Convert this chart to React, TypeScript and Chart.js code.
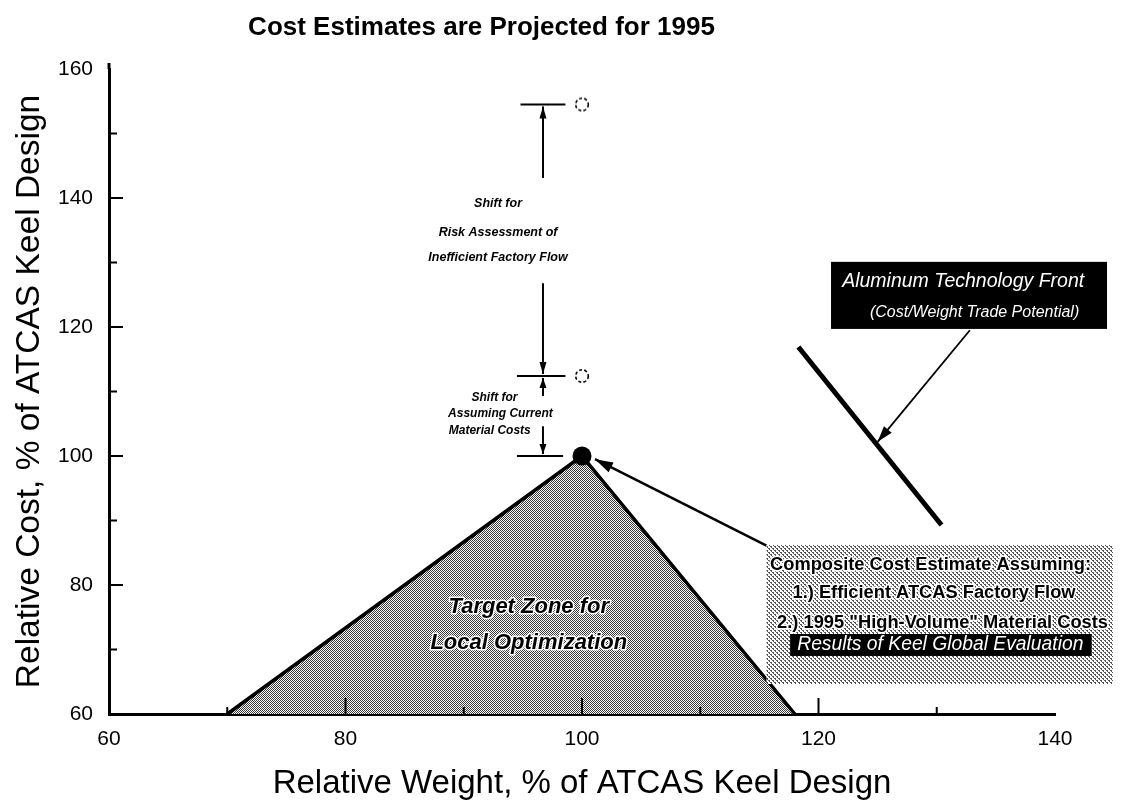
import React, { useEffect, useRef } from "react";
import { Chart, registerables } from "chart.js";
Chart.register(...registerables);

// ---------- text ----------
const chartTitle = "Cost Estimates are Projected for 1995";
const xAxisTitle = "Relative Weight, % of ATCAS Keel Design";
const yAxisTitle = "Relative Cost, % of ATCAS Keel Design";
const riskLabel = ["Shift for", "Risk Assessment of", "Inefficient Factory Flow"];
const materialLabel = ["Shift for", "Assuming Current", "Material Costs"];
const zoneLabel = ["Target Zone for", "Local Optimization"];
const frontLabel = ["Aluminum Technology Front", "(Cost/Weight Trade Potential)"];
const compositeLabel = [
  "Composite Cost Estimate Assuming:",
  "1.) Efficient ATCAS Factory Flow",
  "2.) 1995 \"High-Volume\" Material Costs",
];
const resultsLabel = "Results of Keel Global Evaluation";

// ---------- axes ----------
const xMin = 60, xMax = 140, xStep = 20;
const yMin = 60, yMax = 160, yStep = 20;
const xMajorMarks = [80, 100, 120];
const xMinorMarks = [70, 90, 110, 130];
const yMajorMarks = [80, 100, 120, 140];
const yMinorMarks = [70, 90, 110, 130, 150];

// ---------- data ----------
const zoneX = [70, 100, 118];
const zoneY = [60, 100, 60];
const compositeX = [100];
const compositeY = [100];
const shiftedX = [100, 100];
const shiftedY = [112.4, 154.5];
const riskBarX = [94.8, 98.6];
const riskBarY = [154.5, 154.5];
const materialBarX = [94.5, 98.6];
const materialBarY = [112.4, 112.4];
const baseBarX = [94.5, 98.4];
const baseBarY = [100, 100];
const riskUpX = [96.7, 96.7];
const riskUpY = [143.1, 154.2];
const riskDownX = [96.7, 96.7];
const riskDownY = [126.8, 112.7];
const materialUpX = [96.7, 96.7];
const materialUpY = [109.3, 112.1];
const materialDownX = [96.7, 96.7];
const materialDownY = [104.6, 100.3];
const frontX = [118.3, 130.4];
const frontY = [116.9, 89.3];
const frontPointerX = [132.8, 125.0];
const frontPointerY = [119.5, 102.2];
const compositePointerX = [115.6, 101.1];
const compositePointerY = [86.1, 99.5];

const FONT = "'Liberation Sans', Arial, Helvetica, sans-serif";

const pts = (xs: number[], ys: number[]) => xs.map((x, i) => ({ x, y: ys[i] }));

function makeChecker(dark: string) {
  const c = document.createElement("canvas");
  c.width = 2;
  c.height = 2;
  const g = c.getContext("2d")!;
  g.fillStyle = "#fff";
  g.fillRect(0, 0, 2, 2);
  g.fillStyle = dark;
  g.fillRect(0, 0, 1, 1);
  g.fillRect(1, 1, 1, 1);
  return g.createPattern(c, "repeat")!;
}

function makeDots(dark: string) {
  const c = document.createElement("canvas");
  c.width = 4;
  c.height = 4;
  const g = c.getContext("2d")!;
  g.fillStyle = "#fff";
  g.fillRect(0, 0, 4, 4);
  g.fillStyle = dark;
  g.fillRect(0, 0, 2, 1);
  g.fillRect(2, 2, 2, 1);
  g.fillRect(1, 1, 1, 1);
  g.fillRect(3, 3, 1, 1);
  return g.createPattern(c, "repeat")!;
}

function makeDashedCircle() {
  const c = document.createElement("canvas");
  c.width = 18;
  c.height = 18;
  const g = c.getContext("2d")!;
  g.strokeStyle = "#000";
  g.lineWidth = 1.6;
  g.setLineDash([3, 2.2]);
  g.beginPath();
  g.arc(9, 9, 6.3, 0, Math.PI * 2);
  g.stroke();
  return c;
}

function arrowHead(ctx: CanvasRenderingContext2D, x0: number, y0: number, x1: number, y1: number, len: number, w: number) {
  const a = Math.atan2(y1 - y0, x1 - x0);
  const c = Math.cos(a), s = Math.sin(a);
  ctx.beginPath();
  ctx.moveTo(x1, y1);
  ctx.lineTo(x1 - len * c + w * s, y1 - len * s - w * c);
  ctx.lineTo(x1 - len * c - w * s, y1 - len * s + w * c);
  ctx.closePath();
  ctx.fill();
}

export default function App() {
  const ref = useRef<HTMLCanvasElement | null>(null);

  useEffect(() => {
    const canvas = ref.current!;
    const zonePattern = makeChecker("#3a3a3a");
    const boxPattern = makeDots("#555");
    const dashed = makeDashedCircle();

    const seg = (xs: number[], ys: number[], width: number, head?: { len: number; w: number }) => ({
      data: pts(xs, ys),
      showLine: true,
      borderColor: "#000",
      borderWidth: width,
      pointRadius: 0,
      fill: false,
      clip: false,
      order: 1,
      arrowHead: head,
    });

    const annotations = {
      id: "annotations",
      afterDatasetsDraw(chart: any) {
        const { ctx, chartArea } = chart;
        const sx = chart.scales.x, sy = chart.scales.y;
        const px = (v: number) => sx.getPixelForValue(v);
        const py = (v: number) => sy.getPixelForValue(v);
        ctx.save();

        // arrowheads on segment datasets
        ctx.fillStyle = "#000";
        chart.data.datasets.forEach((ds: any, i: number) => {
          if (!ds.arrowHead) return;
          const d = chart.getDatasetMeta(i).data;
          const a = d[d.length - 2], b = d[d.length - 1];
          arrowHead(ctx, a.x, a.y, b.x, b.y, ds.arrowHead.len, ds.arrowHead.w);
        });

        // axis tick marks (pointing inward)
        ctx.strokeStyle = "#000";
        ctx.lineWidth = 2;
        ctx.beginPath();
        yMajorMarks.forEach((v) => { ctx.moveTo(chartArea.left, py(v)); ctx.lineTo(chartArea.left + 14, py(v)); });
        yMinorMarks.forEach((v) => { ctx.moveTo(chartArea.left, py(v)); ctx.lineTo(chartArea.left + 8, py(v)); });
        xMajorMarks.forEach((v) => { ctx.moveTo(px(v), chartArea.bottom); ctx.lineTo(px(v), chartArea.bottom - 16); });
        xMinorMarks.forEach((v) => { ctx.moveTo(px(v), chartArea.bottom); ctx.lineTo(px(v), chartArea.bottom - 7); });
        ctx.stroke();
        // y axis extends slightly above the top value
        ctx.lineWidth = 3;
        ctx.beginPath();
        ctx.moveTo(chartArea.left, chartArea.top);
        ctx.lineTo(chartArea.left, chartArea.top - 6);
        ctx.stroke();

        // shift labels
        ctx.textAlign = "center";
        ctx.textBaseline = "middle";
        ctx.fillStyle = "#000";
        ctx.font = `italic bold 12.5px ${FONT}`;
        const riskY = [139.2, 134.7, 130.7];
        riskLabel.forEach((t, i) => ctx.fillText(t, px(92.9), py(riskY[i])));
        ctx.font = `italic bold 12px ${FONT}`;
        const matY = [109.1, 106.5, 103.9];
        const matX = [92.6, 93.1, 92.2];
        materialLabel.forEach((t, i) => ctx.fillText(t, px(matX[i]), py(matY[i])));

        // target zone label
        ctx.font = `italic bold 22px ${FONT}`;
        ctx.lineJoin = "round";
        ctx.strokeStyle = "#fff";
        ctx.lineWidth = 3;
        const zoneTY = [76.6, 71.0];
        zoneLabel.forEach((t, i) => {
          ctx.strokeText(t, px(95.5), py(zoneTY[i]));
          ctx.fillText(t, px(95.5), py(zoneTY[i]));
        });

        // aluminum technology front box
        ctx.fillStyle = "#000";
        ctx.fillRect(px(121.06), py(130.1), px(144.4) - px(121.06), py(119.7) - py(130.1));
        ctx.fillStyle = "#fff";
        ctx.textAlign = "left";
        ctx.font = `italic 19.5px ${FONT}`;
        ctx.fillText(frontLabel[0], px(122.0), py(127.0));
        ctx.font = `italic 16px ${FONT}`;
        ctx.fillText(frontLabel[1], px(124.35), py(122.2));

        // composite estimate box
        ctx.fillStyle = boxPattern;
        ctx.fillRect(px(115.6), py(86.2), px(144.9) - px(115.6), py(64.65) - py(86.2));
        ctx.font = `bold 18.3px ${FONT}`;
        ctx.strokeStyle = "#fff";
        ctx.lineWidth = 3;
        const compX = [115.9, 117.8, 116.5];
        const compY = [83.1, 78.8, 74.1];
        compositeLabel.forEach((t, i) => {
          ctx.strokeText(t, px(compX[i]), py(compY[i]));
          ctx.fillStyle = "#000";
          ctx.fillText(t, px(compX[i]), py(compY[i]));
        });
        ctx.fillStyle = "#000";
        ctx.fillRect(px(117.6), py(72.4), px(143.1) - px(117.6), py(69.0) - py(72.4));
        ctx.fillStyle = "#fff";
        ctx.font = `italic 19.3px ${FONT}`;
        ctx.fillText(resultsLabel, px(118.2), py(70.7));

        ctx.restore();
      },
      afterDraw(chart: any) {
        const { ctx } = chart;
        ctx.save();
        ctx.fillStyle = "#000";
        ctx.font = `bold 26px ${FONT}`;
        ctx.textAlign = "center";
        ctx.textBaseline = "alphabetic";
        ctx.fillText(chartTitle, 481.5, 35);
        ctx.restore();
      },
    };

    const chart = new Chart(canvas, {
      type: "scatter",
      data: {
        datasets: [
          {
            data: pts(compositeX, compositeY),
            pointRadius: 9.5,
            pointBackgroundColor: "#000",
            pointBorderWidth: 0,
            showLine: false,
            clip: false,
            order: 0,
          } as any,
          {
            data: pts(shiftedX, shiftedY),
            pointStyle: dashed,
            pointRadius: 7,
            showLine: false,
            clip: false,
            order: 0,
          },
          seg(riskBarX, riskBarY, 2),
          seg(materialBarX, materialBarY, 2),
          seg(baseBarX, baseBarY, 2),
          seg(riskUpX, riskUpY, 2, { len: 12, w: 3.5 }),
          seg(riskDownX, riskDownY, 2, { len: 12, w: 3.5 }),
          seg(materialUpX, materialUpY, 2, { len: 10, w: 3.5 }),
          seg(materialDownX, materialDownY, 2, { len: 10, w: 3.5 }),
          seg(frontX, frontY, 5),
          seg(frontPointerX, frontPointerY, 1.8, { len: 16, w: 5 }),
          seg(compositePointerX, compositePointerY, 2.5, { len: 18, w: 5.5 }),
          {
            data: pts(zoneX, zoneY),
            showLine: true,
            fill: "start",
            backgroundColor: zonePattern,
            borderColor: "#000",
            borderWidth: 3.5,
            borderJoinStyle: "miter",
            pointRadius: 0,
            tension: 0,
            clip: false,
            order: 10,
          } as any,
        ],
      },
      options: {
        animation: false,
        responsive: false,
        events: [],
        layout: { padding: { top: 69, right: 70, bottom: 0, left: 0 } },
        plugins: { legend: { display: false }, tooltip: { enabled: false }, title: { display: false } },
        scales: {
          x: {
            type: "linear",
            min: xMin,
            max: xMax,
            afterFit: (s: any) => { s.height = 89; },
            ticks: { stepSize: xStep, color: "#000", padding: 13, font: { family: FONT, size: 21 } },
            grid: { display: false, drawTicks: false },
            border: { display: true, color: "#000", width: 3 },
            title: {
              display: true,
              text: xAxisTitle,
              color: "#000",
              font: { family: FONT, size: 33, lineHeight: 1 },
              padding: { top: 0, bottom: 3 },
            },
          },
          y: {
            type: "linear",
            min: yMin,
            max: yMax,
            afterFit: (s: any) => { s.width = 109; },
            ticks: { stepSize: yStep, color: "#000", padding: 16, font: { family: FONT, size: 21 } },
            grid: { display: false, drawTicks: false },
            border: { display: true, color: "#000", width: 3 },
            title: {
              display: true,
              text: yAxisTitle,
              color: "#000",
              font: { family: FONT, size: 33.5, lineHeight: 1 },
              padding: { top: 13, bottom: 0 },
            },
          },
        },
      },
      plugins: [annotations],
    } as any);

    return () => chart.destroy();
  }, []);

  return (
    <div style={{ position: "absolute", left: 0, top: 0, width: 1125, height: 803, background: "#fff" }}>
      <canvas ref={ref} width={1125} height={803} style={{ display: "block", width: 1125, height: 803 }} />
    </div>
  );
}
